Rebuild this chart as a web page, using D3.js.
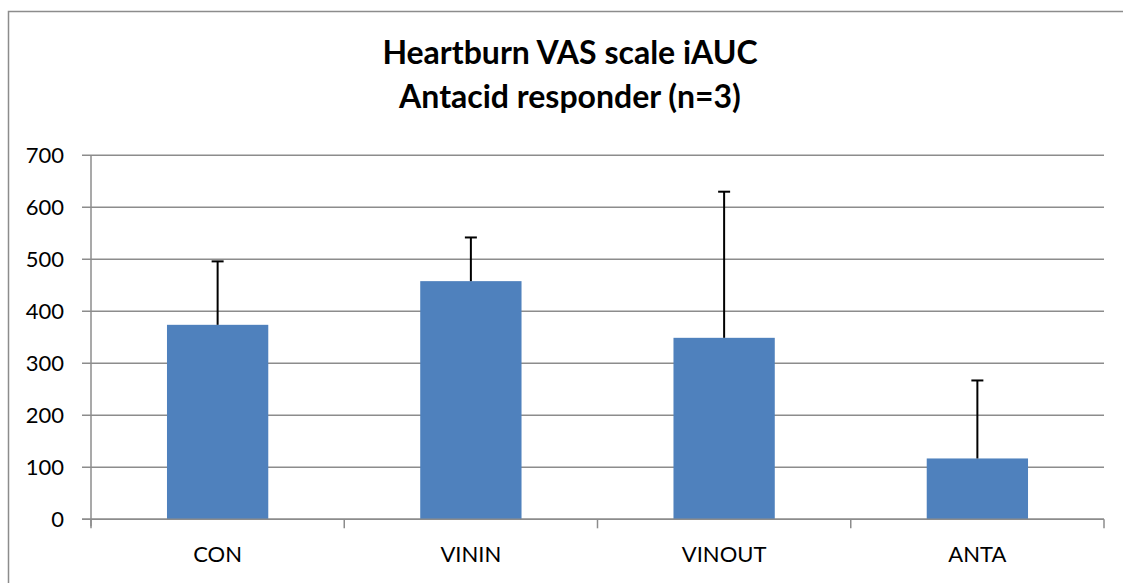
<html>
<head>
<script src="https://d3js.org/d3.v7.min.js"></script>
<style>
  body { margin: 0; background: #fff; }
  text { font-family: Lato, "Open Sans", sans-serif; fill: #000; }
</style>
</head>
<body>
<script>
// data
var categories = ["CON", "VININ", "VINOUT", "ANTA"];
var means = [374, 458, 349, 117];
var errors = [122, 84, 281, 150];
var yTicks = [0, 100, 200, 300, 400, 500, 600, 700];
var titleLines = ["Heartburn VAS scale iAUC", "Antacid responder (n=3)"];

var W = 1123, H = 583;
var plot = {left: 91, right: 1104, top: 155.3, bottom: 519.3};

var svg = d3.select("body").append("svg")
    .attr("width", W)
    .attr("height", H);

// outer chart frame (top and left edges visible)
svg.append("path")
    .attr("d", "M8.5," + H + "V11.5H" + W)
    .style("fill", "none")
    .style("stroke", "#8c8c8c")
    .style("stroke-width", "1.5px");

var x = d3.scaleBand()
    .domain(categories)
    .range([plot.left, plot.right])
    .paddingInner(0.6)
    .paddingOuter(0.3);

var y = d3.scaleLinear()
    .domain([0, 700])
    .range([plot.bottom, plot.top]);

// gridlines
svg.append("g").selectAll("line")
    .data(yTicks)
    .enter().append("line")
    .attr("x1", plot.left - 9)
    .attr("x2", plot.right)
    .attr("y1", d => y(d))
    .attr("y2", d => y(d))
    .style("stroke", "#8c8c8c")
    .style("stroke-width", "1.5px");

// y axis line
svg.append("line")
    .attr("x1", plot.left).attr("x2", plot.left)
    .attr("y1", plot.top).attr("y2", plot.bottom + 7)
    .style("stroke", "#8c8c8c")
    .style("stroke-width", "1.5px");

// y tick labels
svg.append("g").selectAll("text")
    .data(yTicks)
    .enter().append("text")
    .attr("x", 64)
    .attr("y", d => y(d))
    .attr("dy", "0.36em")
    .attr("text-anchor", "end")
    .style("font-size", "22px")
    .text(d => d);

// x tick marks at category boundaries
var step = x.step();
var boundaries = d3.range(categories.length + 1).map(i => plot.left + i * step);
svg.append("g").selectAll("line")
    .data(boundaries)
    .enter().append("line")
    .attr("x1", d => d).attr("x2", d => d)
    .attr("y1", plot.bottom).attr("y2", plot.bottom + 9)
    .style("stroke", "#8c8c8c")
    .style("stroke-width", "1.5px");

// bars
svg.append("g").selectAll("rect")
    .data(categories)
    .enter().append("rect")
    .attr("x", d => x(d))
    .attr("width", x.bandwidth())
    .attr("y", (d, i) => y(means[i]))
    .attr("height", (d, i) => y(0) - y(means[i]))
    .style("fill", "#4f81bd");

// redraw baseline over bars
svg.append("line")
    .attr("x1", plot.left - 9).attr("x2", plot.right)
    .attr("y1", y(0)).attr("y2", y(0))
    .style("stroke", "#8c8c8c")
    .style("stroke-width", "1.5px");

// error bars (plus only)
var err = svg.append("g");
categories.forEach(function(c, i) {
    var cx = x(c) + x.bandwidth() / 2;
    err.append("line")
        .attr("x1", cx).attr("x2", cx)
        .attr("y1", y(means[i])).attr("y2", y(means[i] + errors[i]))
        .style("stroke", "#000")
        .style("stroke-width", "2px");
    err.append("line")
        .attr("x1", cx - 6).attr("x2", cx + 6)
        .attr("y1", y(means[i] + errors[i])).attr("y2", y(means[i] + errors[i]))
        .style("stroke", "#000")
        .style("stroke-width", "2px");
});

// category labels
svg.append("g").selectAll("text")
    .data(categories)
    .enter().append("text")
    .attr("x", d => x(d) + x.bandwidth() / 2)
    .attr("y", 562)
    .attr("text-anchor", "middle")
    .style("font-size", "22px")
    .text(d => d);

// title
svg.append("g").selectAll("text")
    .data(titleLines)
    .enter().append("text")
    .attr("x", 570)
    .attr("y", (d, i) => 64 + i * 44)
    .attr("text-anchor", "middle")
    .style("font-size", "32px")
    .style("font-weight", "bold")
    .text(d => d);
</script>
</body>
</html>
